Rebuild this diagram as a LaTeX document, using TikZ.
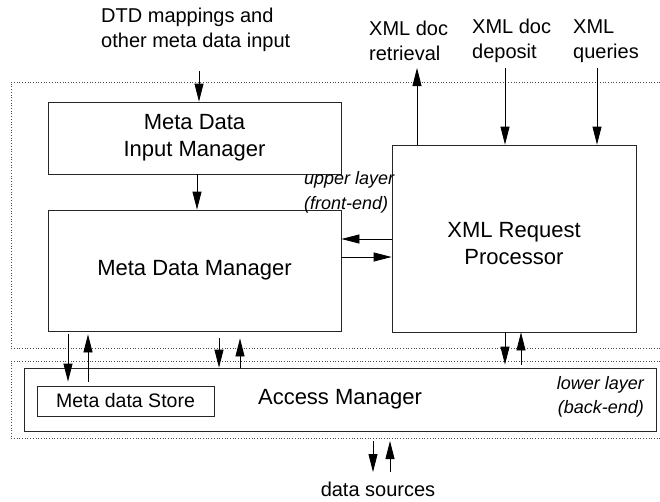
\documentclass[tikz,border=0pt]{standalone}
\usepackage{fontspec}
\setmainfont{Liberation Sans}
\usetikzlibrary{arrows.meta}
\begin{document}
\begin{tikzpicture}[x=1pt,y=-1pt,
  box/.style={draw=black!85,line width=0.8pt,rectangle,inner sep=0pt,align=center,
    font=\fontsize{22}{27}\selectfont},
  lbl/.style={inner sep=0pt,font=\fontsize{20}{25}\selectfont},
  note/.style={inner sep=0pt,font=\fontsize{18}{24.5}\selectfont\itshape},
  layer/.style={draw=black!70,dotted,line width=0.7pt},
  flow/.style={draw=black,line width=0.8pt,-{Triangle[length=18pt,width=9pt]}}]
\useasboundingbox (0,0) rectangle (660,501);

% layer outlines (open to the right)
\draw[layer] (660,82) -- (11,82) -- (11,348) -- (660,348);
\draw[layer] (660,361) -- (11,361) -- (11,438) -- (660,438);

% components
\node[box,minimum width=293pt,minimum height=72pt] (mdim) at (194.5,138) {Meta Data\\Input Manager};
\node[box,minimum width=293pt,minimum height=121pt] (mdm) at (194.5,270.5) {Meta Data Manager};
\node[box,minimum width=244pt,minimum height=187pt,
  label={[align=center,inner sep=0pt,font=\fontsize{22}{27}\selectfont,yshift=-5pt]center:XML Request\\Processor}]
  (xrp) at (514,238.5) {};
\node[box,minimum width=632pt,minimum height=63pt] (am) at (340,399.5) {Access Manager};
\node[box,minimum width=177pt,minimum height=30pt,font=\fontsize{19.5}{24}\selectfont] (store) at (125.5,401) {Meta data Store};

% labels
\node[lbl,anchor=west,align=left] (dtd) at (101,29.5) {DTD mappings and\\other meta data input};
\node[lbl,anchor=west,align=left] (ret) at (369,41) {XML doc\\retrieval};
\node[lbl,anchor=west,align=left] (dep) at (472,41) {XML doc\\deposit};
\node[lbl,anchor=west,align=left] (qry) at (573,41) {XML\\queries};
\node[note,anchor=west,align=left] (upper) at (304,192.5) {upper layer\\(front-end)};
\node[note,anchor=east,align=right] (lower) at (644,397) {lower layer\\(back-end)};
\node[lbl] (ds) at (378,489) {data sources};

% connector end points
\coordinate (dtdin) at (199,71);
\coordinate (retout) at (417,68);
\coordinate (depin) at (505,68);
\coordinate (qryin) at (597,68);
\coordinate (dsdown) at (373,472);
\coordinate (dsup) at (390,441);
\coordinate (xa) at (197,0);
\coordinate (xb) at (68,0);
\coordinate (xc) at (88,0);
\coordinate (xd) at (219,0);
\coordinate (xe) at (240,0);
\coordinate (xf) at (505,0);
\coordinate (xg) at (521,0);
\coordinate (ya) at (0,239);
\coordinate (yb) at (0,257);

% connectors
\draw[flow] (dtdin) -- (mdim.north -| dtdin);
\draw[flow] (mdim.south -| xa) -- (mdm.north -| xa);
\draw[flow] (xrp.north -| retout) -- (retout);
\draw[flow] (depin) -- (xrp.north -| depin);
\draw[flow] (qryin) -- (xrp.north -| qryin);
\draw[flow] (xrp.west |- ya) -- (mdm.east |- ya);
\draw[flow] (mdm.east |- yb) -- (xrp.west |- yb);
\draw[flow,shorten <=3pt,shorten >=4pt] (mdm.south -| xb) -- (store.north -| xb);
\draw[flow,shorten <=4pt,shorten >=3pt] (store.north -| xc) -- (mdm.south -| xc);
\draw[flow,shorten <=7pt] (mdm.south -| xd) -- (am.north -| xd);
\draw[flow,shorten >=7pt] (am.north -| xe) -- (mdm.south -| xe);
\draw[flow,shorten >=3pt] (xrp.south -| xf) -- (am.north -| xf);
\draw[flow,shorten <=3pt] (am.north -| xg) -- (xrp.south -| xg);
\draw[flow,shorten <=10pt] (am.south -| dsdown) -- (dsdown);
\draw[flow] (dsup |- dsdown) -- (dsup);
\end{tikzpicture}
\end{document}
